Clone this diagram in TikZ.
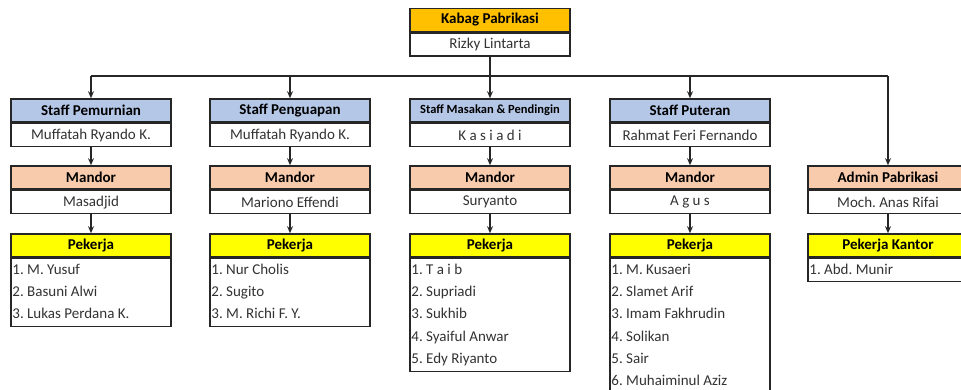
\documentclass[tikz,border=0pt]{standalone}
\usepackage{fontspec}
\setmainfont{Carlito}
\frenchspacing
\usetikzlibrary{arrows.meta,calc}
\definecolor{goldc}{HTML}{FFC000}
\definecolor{bluec}{HTML}{B4C7E7}
\definecolor{peachc}{HTML}{F8CBAD}
\definecolor{yellowc}{HTML}{FFFF00}
\definecolor{linec}{HTML}{262626}
\definecolor{txtc}{HTML}{333333}
\tikzset{
  box/.style={draw=linec, line width=1.6pt, minimum width=160pt, minimum height=23pt,
    inner sep=0pt, fill=white, text=txtc, font=\frenchspacing\fontsize{15}{18}\selectfont},
  ttl/.style={box, text=black, font=\bfseries\fontsize{15}{18}\selectfont},
  kabag/.style={ttl, fill=goldc},
  staff/.style={ttl, fill=bluec},
  mandor/.style={ttl, fill=peachc},
  pekerja/.style={ttl, fill=yellowc},
  listbox/.style={draw=linec, line width=1.6pt, minimum width=160pt, inner sep=0pt, fill=white},
  item/.style={inner sep=0pt, anchor=base west, text=txtc, font=\frenchspacing\fontsize{15}{18}\selectfont},
  conn/.style={draw=linec, line width=1.3pt},
  arr/.style={conn, -{Stealth[length=7pt,width=6pt]}},
}
\begin{document}
\begin{tikzpicture}[x=1pt,y=-1pt]
\useasboundingbox (0,0) rectangle (961,389);
\clip (0,0) rectangle (961,389);
% top
\node[kabag] (kt) at (490,20) {Kabag Pabrikasi};
\node[box, anchor=north] (kn) at (kt.south) {Rizky Lintarta};
\coordinate (h1) at (91,76);
\coordinate (h2) at (290,76);
\coordinate (h3) at (490,76);
\coordinate (h4) at (690,76);
\coordinate (h5) at (888,76);
% staff row
\node[staff] (s1t) at (91,110.5) {Staff Pemurnian};
\node[box, anchor=north] (s1n) at (s1t.south) {Muffatah Ryando K.};
\node[staff] (s2t) at (290,110.5) {Staff Penguapan};
\node[box, anchor=north] (s2n) at (s2t.south) {Muffatah Ryando K.};
\node[staff, font=\bfseries\fontsize{12.5}{15}\selectfont] (s3t) at (490,110.5) {Staff Masakan \& Pendingin};
\node[box, anchor=north] (s3n) at (s3t.south) {K a s i a d i};
\node[staff] (s4t) at (690,110.5) {Staff Puteran};
\node[box, anchor=north] (s4n) at (s4t.south) {Rahmat Feri Fernando};
% mandor row
\node[mandor] (m1t) at (91,177.5) {Mandor};
\node[box, anchor=north] (m1n) at (m1t.south) {Masadjid};
\node[mandor] (m2t) at (290,177.5) {Mandor};
\node[box, anchor=north] (m2n) at (m2t.south) {Mariono Effendi};
\node[mandor] (m3t) at (490,177.5) {Mandor};
\node[box, anchor=north] (m3n) at (m3t.south) {Suryanto};
\node[mandor] (m4t) at (690,177.5) {Mandor};
\node[box, anchor=north] (m4n) at (m4t.south) {A g u s};
\node[mandor] (m5t) at (888,177.5) {Admin Pabrikasi};
\node[box, anchor=north] (m5n) at (m5t.south) {Moch. Anas Rifai};
% pekerja row
\node[pekerja] (p1t) at (91,245.5) {Pekerja};
\node[listbox, minimum height=68pt, anchor=north] (p1l) at (p1t.south) {};
\node[pekerja] (p2t) at (290,245.5) {Pekerja};
\node[listbox, minimum height=68pt, anchor=north] (p2l) at (p2t.south) {};
\node[pekerja] (p3t) at (490,245.5) {Pekerja};
\node[listbox, minimum height=113pt, anchor=north] (p3l) at (p3t.south) {};
\node[pekerja] (p4t) at (690,245.5) {Pekerja};
\node[listbox, minimum height=136pt, anchor=north] (p4l) at (p4t.south) {};
\node[pekerja] (p5t) at (888,245.5) {Pekerja Kantor};
\node[listbox, minimum height=23pt, anchor=north] (p5l) at (p5t.south) {};
% items
\foreach \t [count=\i] in {1. M. Yusuf, 2. Basuni Alwi, 3. Lukas Perdana K.}
  \node[item] (p1i\i) at ($(p1l.north west)+(2,22.3*\i-6)$) {\t};
\foreach \t [count=\i] in {1. Nur Cholis, 2. Sugito, 3. M. Richi F. Y.}
  \node[item] (p2i\i) at ($(p2l.north west)+(2,22.3*\i-6)$) {\t};
\foreach \t [count=\i] in {1. T a i b, 2. Supriadi, 3. Sukhib, 4. Syaiful Anwar, 5. Edy Riyanto}
  \node[item] (p3i\i) at ($(p3l.north west)+(2,22.3*\i-6)$) {\t};
\foreach \t [count=\i] in {1. M. Kusaeri, 2. Slamet Arif, 3. Imam Fakhrudin, 4. Solikan, 5. Sair, 6. Muhaiminul Aziz}
  \node[item] (p4i\i) at ($(p4l.north west)+(2,22.3*\i-6)$) {\t};
\node[item] (p5i1) at ($(p5l.north west)+(2,16.3)$) {1. Abd. Munir};
% connectors
\draw[conn] (h1) -- (h5);
\draw[arr] (kn.south) -- (s3t.north);
\draw[arr] (h1) -- (s1t.north);
\draw[arr] (h2) -- (s2t.north);
\draw[arr] (h4) -- (s4t.north);
\draw[arr] (h5) -- (m5t.north);
\foreach \c in {1,2,3,4} {
  \draw[arr] (s\c n.south) -- (m\c t.north);
  \draw[arr] (m\c n.south) -- (p\c t.north);
}
\draw[arr] (m5n.south) -- (p5t.north);
\end{tikzpicture}
\end{document}
